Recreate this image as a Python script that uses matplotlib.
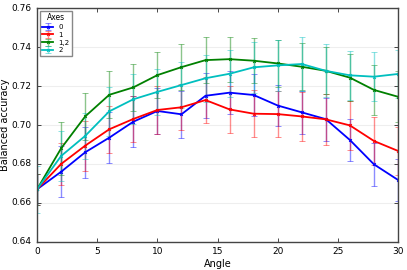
import matplotlib.pyplot as plt

# Balanced accuracy vs rotation angle, one series per rotation axis
angles = [0, 2, 4, 6, 8, 10, 12, 14, 16, 18, 20, 22, 24, 26, 28, 30]

acc_0 = [0.667, 0.676, 0.686, 0.6935, 0.7017, 0.7072, 0.7055, 0.715, 0.7166,
         0.7154, 0.710, 0.7065, 0.703, 0.6923, 0.6798, 0.6718]
acc_1 = [0.667, 0.680, 0.6894, 0.6978, 0.7031, 0.7077, 0.7091, 0.7128, 0.708,
         0.7058, 0.7056, 0.7044, 0.7029, 0.6998, 0.6918, 0.6867]
acc_12 = [0.667, 0.688, 0.7044, 0.7155, 0.7193, 0.7256, 0.7297, 0.7333, 0.7338,
          0.733, 0.7316, 0.7299, 0.7278, 0.7243, 0.718, 0.7145]
acc_2 = [0.667, 0.6841, 0.6944, 0.707, 0.7132, 0.717, 0.7205, 0.724, 0.7263,
         0.7296, 0.7306, 0.7313, 0.7278, 0.7255, 0.7248, 0.7262]

err_0 = [0.008, 0.013, 0.013, 0.013, 0.013, 0.012, 0.012, 0.0115, 0.011,
         0.011, 0.0105, 0.011, 0.011, 0.011, 0.011, 0.011]
err_1 = [0.008, 0.011, 0.0128, 0.012, 0.012, 0.0125, 0.0117, 0.012, 0.012,
         0.012, 0.012, 0.0124, 0.013, 0.0127, 0.0125, 0.0125]
err_12 = [0.008, 0.0134, 0.012, 0.012, 0.012, 0.0117, 0.0117, 0.0117, 0.0115,
          0.0114, 0.012, 0.012, 0.012, 0.012, 0.013, 0.013]
err_2 = [0.012, 0.013, 0.012, 0.0126, 0.0128, 0.012, 0.012, 0.012, 0.012,
         0.013, 0.013, 0.0137, 0.0136, 0.0126, 0.0125, 0.0125]

series = [('0', acc_0, err_0, 'b'),
          ('1', acc_1, err_1, 'r'),
          ('1,2', acc_12, err_12, 'g'),
          ('2', acc_2, err_2, 'c')]

plt.style.use('classic')
plt.rcParams['font.size'] = 6.5

fig = plt.figure(figsize=(4.07, 2.70), dpi=100, facecolor='white')
ax = fig.add_axes([0.091, 0.104, 0.887, 0.866])

for label, acc, err, col in series:
    cont = ax.errorbar(angles, acc, yerr=err, color=col, marker='x', ms=2,
                       mew=0.7, lw=1.3, capsize=2, elinewidth=1, label=label)
    for part in cont[1] + cont[2]:
        part.set_alpha(0.45)

ax.set_xlim(0, 30)
ax.set_ylim(0.64, 0.76)
ax.set_xticks([0, 5, 10, 15, 20, 25, 30])
ax.set_yticks([0.64, 0.66, 0.68, 0.70, 0.72, 0.74, 0.76])
ax.yaxis.grid(True, color='#eeeeee', linestyle='-', linewidth=0.8)
ax.set_axisbelow(True)
ax.tick_params(labelsize=6.5, length=3)
for s in ax.spines.values():
    s.set_color('#444444')

ax.set_xlabel('Angle', fontsize=7, labelpad=2)
ax.set_ylabel('Balanced accuracy', fontsize=7, labelpad=1)

leg = ax.legend(title='Axes', loc='upper left', fontsize=5, numpoints=1,
                handlelength=1.6, borderpad=0.35, labelspacing=0.25,
                handletextpad=0.7, borderaxespad=0.4)
leg.get_title().set_fontsize(5.5)
leg.get_frame().set_edgecolor('#888888')

fig.savefig('out.png', dpi=100, facecolor='white')
